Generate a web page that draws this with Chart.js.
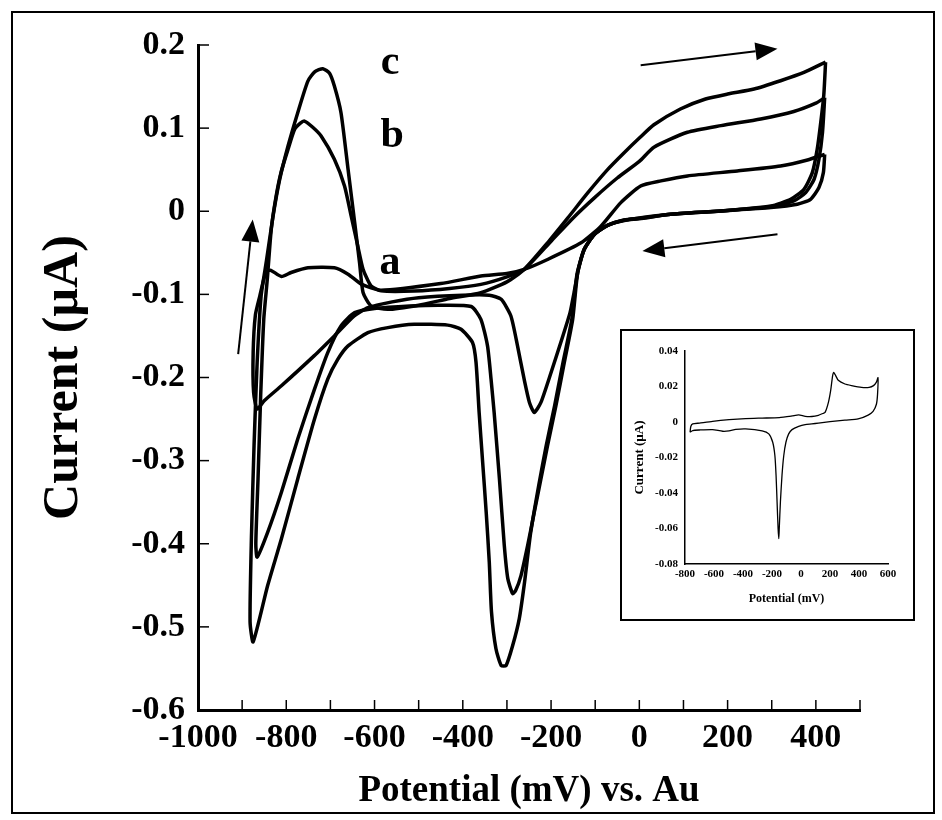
<!DOCTYPE html>
<html>
<head>
<meta charset="utf-8">
<title>Cyclic voltammograms</title>
<script src="https://cdn.jsdelivr.net/npm/chart.js@4/dist/chart.umd.min.js"></script>
<style>
  html, body { margin: 0; padding: 0; background: #fff; }
  #wrap { position: relative; width: 942px; height: 820px; }
  #frame { position: absolute; left: 11px; top: 11px; width: 924px; height: 803px; border: 2px solid #000; box-sizing: border-box; }
  #main { position: absolute; left: 0; top: 0; }
  #insetBox { position: absolute; left: 620px; top: 329px; width: 295px; height: 292px; border: 2px solid #000; box-sizing: border-box; background: #fff; }
  #inset { position: absolute; left: 0; top: 0; }
</style>
</head>
<body>
<div id="wrap">
  <div id="frame"></div>
  <canvas id="main" width="942" height="820"></canvas>
  <div id="insetBox"><canvas id="inset" width="291" height="288"></canvas></div>
</div>
<script>
// ---- data: potential (mV) and current (uA), in scan order ----
const potA = [420, 417, 407, 388, 358, 298, 185, 71, 0, -42, -72, -102, -125, -138, -148, -157, -178, -200, -223, -238, -249, -261, -276, -291, -313, -340, -400, -500, -560, -615, -646, -691, -737, -811, -850, -866, -874, -875, -870, -860, -850, -843, -835, -811, -789, -751, -691, -660, -630, -585, -450, -359, -300, -261, -208, -132, -87, -42, 3, 49, 109, 222, 320, 381, 420];
const curA = [0.0685, 0.0465, 0.0285, 0.0144, 0.0084, 0.0044, 0.0004, -0.0036, -0.008, -0.012, -0.017, -0.028, -0.046, -0.07, -0.098, -0.122, -0.158, -0.194, -0.23, -0.242, -0.23, -0.202, -0.162, -0.126, -0.106, -0.101, -0.101, -0.104, -0.109, -0.116, -0.126, -0.15, -0.174, -0.21, -0.228, -0.238, -0.218, -0.17, -0.125, -0.102, -0.08, -0.072, -0.071, -0.0785, -0.0737, -0.068, -0.068, -0.0757, -0.0877, -0.095, -0.087, -0.078, -0.075, -0.07, -0.058, -0.038, -0.018, 0.0104, 0.0304, 0.0365, 0.0425, 0.0485, 0.0545, 0.0617, 0.0685];

const potB = [420, 415, 407, 396, 377, 350, 298, 185, 71, 0, -34, -72, -102, -125, -140, -151, -170, -189, -208, -223, -238, -253, -268, -280, -287, -298, -306, -317, -329, -336, -344, -359, -381, -450, -520, -600, -645, -676, -706, -736, -774, -811, -842, -866, -869, -864, -858, -851, -843, -834, -823, -812, -796, -781, -768, -759, -740, -721, -691, -668, -653, -638, -626, -608, -585, -510, -430, -359, -300, -261, -200, -150, -100, -50, 0, 33, 109, 185, 275, 350, 400, 420];
const curB = [0.1366, 0.0946, 0.0625, 0.0385, 0.0225, 0.0124, 0.0054, 0.0004, -0.0036, -0.0085, -0.0105, -0.017, -0.028, -0.046, -0.075, -0.13, -0.182, -0.234, -0.282, -0.322, -0.362, -0.402, -0.438, -0.456, -0.46, -0.442, -0.402, -0.322, -0.242, -0.202, -0.162, -0.13, -0.1146, -0.113, -0.114, -0.117, -0.122, -0.138, -0.17, -0.214, -0.274, -0.338, -0.386, -0.416, -0.4, -0.322, -0.222, -0.13, -0.082, -0.0216, 0.018, 0.0465, 0.0745, 0.0986, 0.106, 0.1085, 0.101, 0.0905, 0.0625, 0.0304, -0.0056, -0.0417, -0.0697, -0.0898, -0.0958, -0.096, -0.093, -0.088, -0.079, -0.07, -0.036, -0.008, 0.017, 0.04, 0.06, 0.077, 0.095, 0.103, 0.111, 0.12, 0.13, 0.1366];

const potC = [422, 418, 411, 403, 392, 373, 343, 298, 185, 71, 0, -34, -72, -102, -125, -141, -153, -173, -192, -211, -228, -246, -261, -272, -287, -302, -313, -325, -335, -340, -347, -355, -363, -370, -378, -404, -434, -510, -570, -615, -660, -683, -706, -736, -774, -811, -842, -875, -882, -879, -873, -866, -857, -845, -830, -815, -796, -774, -751, -735, -717, -702, -691, -676, -660, -645, -634, -626, -608, -570, -500, -430, -359, -300, -261, -208, -162, -117, -72, -35, 0, 33, 93, 150, 200, 260, 320, 373, 422];
const curC = [0.1795, 0.14, 0.1066, 0.0745, 0.0465, 0.0264, 0.0144, 0.0064, 0.0004, -0.0036, -0.009, -0.0105, -0.017, -0.028, -0.046, -0.075, -0.13, -0.182, -0.234, -0.282, -0.33, -0.386, -0.45, -0.49, -0.5225, -0.5465, -0.5465, -0.526, -0.482, -0.422, -0.362, -0.302, -0.242, -0.182, -0.158, -0.142, -0.137, -0.136, -0.14, -0.146, -0.162, -0.178, -0.202, -0.25, -0.322, -0.394, -0.45, -0.518, -0.494, -0.394, -0.282, -0.182, -0.102, -0.06, -0.006, 0.038, 0.0785, 0.1186, 0.1566, 0.168, 0.1715, 0.166, 0.1506, 0.1186, 0.0505, -0.0136, -0.0617, -0.0978, -0.1138, -0.118, -0.113, -0.105, -0.098, -0.085, -0.07, -0.038, -0.008, 0.022, 0.05, 0.07, 0.088, 0.104, 0.123, 0.135, 0.141, 0.147, 0.157, 0.167, 0.1795];

// inset voltammogram
const insetPot = [-765, -760, -747, -700, -610, -496, -382, -268, -150, -62, -16, 29, 75, 120, 150, 166, 189, 205, 218, 226, 240, 257, 303, 349, 417, 470, 500, 520, 531, 528, 520, 497, 463, 394, 303, 200, 120, 75, 29, -16, -62, -85, -104, -119, -131, -142, -150, -153, -158, -165, -172, -180, -195, -222, -268, -382, -450, -496, -540, -610, -700, -747, -765];
const insetCur = [-0.0058, -0.0025, -0.0011, -0.0006, 0.0004, 0.0013, 0.0019, 0.0022, 0.0025, 0.0034, 0.004, 0.0032, 0.0031, 0.0038, 0.0048, 0.0054, 0.0111, 0.018, 0.026, 0.0279, 0.026, 0.0235, 0.0214, 0.0205, 0.0195, 0.0195, 0.0205, 0.0225, 0.025, 0.0157, 0.01, 0.006, 0.0039, 0.0017, 0.0011, 0.0002, -0.0006, -0.0011, -0.0015, -0.0025, -0.0043, -0.0067, -0.0114, -0.019, -0.03, -0.045, -0.06, -0.0657, -0.06, -0.045, -0.03, -0.019, -0.0114, -0.0067, -0.005, -0.0039, -0.0042, -0.005, -0.0052, -0.0043, -0.0045, -0.0048, -0.0058];

// curve letters and scan-direction arrows (data units)
const curveNames = ["a", "b", "c"];
const namePot = [-565, -560, -565];
const nameCur = [-0.0757, 0.0769, 0.1647];
const arrowFromPot = [-909, 3, 313];
const arrowFromCur = [-0.172, 0.1755, -0.0276];
const arrowToPot = [-876, 313, 7];
const arrowToCur = [-0.010, 0.1956, -0.0477];

const SERIF = '"Liberation Serif", "Times New Roman", serif';
Chart.defaults.font.family = SERIF;
Chart.defaults.color = "#000";

function toPoints(xs, ys) {
    const n = Math.min(xs.length, ys.length);
    const pts = [];
    for (let i = 0; i < n; i++) pts.push({ x: xs[i], y: ys[i] });
    return pts;
}

function curve(xs, ys, width) {
    return {
        data: toPoints(xs, ys),
        showLine: true,
        borderColor: "#000",
        borderWidth: width,
        pointRadius: 0,
        tension: 0.2,
        fill: false
    };
}

// -------------------------
// ticks pointing into the plot
// -------------------------
const inwardTicks = {
    id: "inwardTicks",
    afterDatasetsDraw(chart) {
        const { ctx, chartArea, scales } = chart;
        ctx.save();
        ctx.strokeStyle = "#000";
        ctx.lineWidth = 1.5;
        scales.x.ticks.forEach(t => {
            const px = scales.x.getPixelForValue(t.value);
            ctx.beginPath();
            ctx.moveTo(px, chartArea.bottom);
            ctx.lineTo(px, chartArea.bottom - 10);
            ctx.stroke();
        });
        scales.y.ticks.forEach(t => {
            const py = scales.y.getPixelForValue(t.value);
            ctx.beginPath();
            ctx.moveTo(chartArea.left, py);
            ctx.lineTo(chartArea.left + 11, py);
            ctx.stroke();
        });
        ctx.restore();
    }
};

// -------------------------
// letters a/b/c and arrows
// -------------------------
const annotations = {
    id: "annotations",
    afterDatasetsDraw(chart) {
        const { ctx, scales: { x, y } } = chart;
        ctx.save();
        ctx.fillStyle = "#000";
        ctx.strokeStyle = "#000";
        ctx.font = "bold 42px " + SERIF;
        ctx.textAlign = "center";
        ctx.textBaseline = "alphabetic";
        curveNames.forEach((n, i) => {
            ctx.fillText(n, x.getPixelForValue(namePot[i]), y.getPixelForValue(nameCur[i]));
        });

        for (let i = 0; i < arrowFromPot.length; i++) {
            const x0 = x.getPixelForValue(arrowFromPot[i]);
            const y0 = y.getPixelForValue(arrowFromCur[i]);
            const x1 = x.getPixelForValue(arrowToPot[i]);
            const y1 = y.getPixelForValue(arrowToCur[i]);
            const ang = Math.atan2(y1 - y0, x1 - x0);
            const headLen = 22, headHalf = 9;
            const bx = x1 - headLen * Math.cos(ang);
            const by = y1 - headLen * Math.sin(ang);
            ctx.lineWidth = 2;
            ctx.beginPath();
            ctx.moveTo(x0, y0);
            ctx.lineTo(bx, by);
            ctx.stroke();
            ctx.beginPath();
            ctx.moveTo(x1, y1);
            ctx.lineTo(bx + headHalf * Math.sin(ang), by - headHalf * Math.cos(ang));
            ctx.lineTo(bx - headHalf * Math.sin(ang), by + headHalf * Math.cos(ang));
            ctx.closePath();
            ctx.fill();
        }
        ctx.restore();
    }
};

// -------------------------
// MAIN CHART
// -------------------------
new Chart(document.getElementById("main"), {
    type: "scatter",
    data: {
        datasets: [
            curve(potA, curA, 3.5),
            curve(potB, curB, 3.5),
            curve(potC, curC, 3.5)
        ]
    },
    options: {
        responsive: false,
        animation: false,
        devicePixelRatio: 1,
        layout: { padding: { left: 12, top: 45, right: 82, bottom: 0 } },
        plugins: { legend: { display: false }, tooltip: { enabled: false } },
        scales: {
            x: {
                type: "linear",
                min: -1000,
                max: 500,
                afterFit(scale) { scale.height = 110; },
                border: { display: true, color: "#000", width: 3 },
                grid: { display: false, drawTicks: false },
                ticks: {
                    stepSize: 100,
                    autoSkip: false,
                    maxRotation: 0,
                    padding: 11,
                    font: { size: 34, weight: "bold", lineHeight: 1 },
                    callback: v => (v % 200 === 0 && v <= 400) ? String(v) : ""
                },
                title: {
                    display: true,
                    text: "Potential (mV) vs. Au",
                    font: { size: 37, weight: "bold", lineHeight: 1 },
                    padding: { top: 0, bottom: 10 }
                }
            },
            y: {
                type: "linear",
                min: -0.6,
                max: 0.2,
                afterFit(scale) { scale.width = 186; },
                border: { display: true, color: "#000", width: 3 },
                grid: { display: false, drawTicks: false },
                ticks: {
                    stepSize: 0.1,
                    autoSkip: false,
                    padding: 13,
                    font: { size: 34, weight: "bold", lineHeight: 1 },
                    callback: v => String(Math.round(v * 10) / 10)
                },
                title: {
                    display: true,
                    text: "Current (µA)",
                    font: { size: 50, weight: "bold", lineHeight: 1 },
                    padding: { top: 27, bottom: 0 }
                }
            }
        }
    },
    plugins: [inwardTicks, annotations]
});

// -------------------------
// INSET CHART
// -------------------------
new Chart(document.getElementById("inset"), {
    type: "scatter",
    data: { datasets: [curve(insetPot, insetCur, 1.3)] },
    options: {
        responsive: false,
        animation: false,
        devicePixelRatio: 1,
        layout: { padding: { left: 2, top: 20, right: 25, bottom: 0 } },
        plugins: { legend: { display: false }, tooltip: { enabled: false } },
        scales: {
            x: {
                type: "linear",
                min: -800,
                max: 600,
                afterFit(scale) { scale.height = 55; },
                border: { display: true, color: "#000", width: 1.5 },
                grid: { display: false, drawTicks: false },
                ticks: {
                    stepSize: 200,
                    autoSkip: false,
                    maxRotation: 0,
                    padding: 5,
                    font: { size: 11, weight: "bold", lineHeight: 1 }
                },
                title: {
                    display: true,
                    text: "Potential (mV)",
                    font: { size: 12, weight: "bold", lineHeight: 1 },
                    padding: { top: 0, bottom: 14 }
                }
            },
            y: {
                type: "linear",
                min: -0.08,
                max: 0.04,
                afterFit(scale) { scale.width = 61; },
                border: { display: true, color: "#000", width: 1.5 },
                grid: { display: false, drawTicks: false },
                ticks: {
                    stepSize: 0.02,
                    autoSkip: false,
                    padding: 7,
                    font: { size: 11, weight: "bold", lineHeight: 1 },
                    callback: v => Math.abs(v) < 1e-9 ? "0" : v.toFixed(2)
                },
                title: {
                    display: true,
                    text: "Current (µA)",
                    font: { size: 13, weight: "bold", lineHeight: 1 },
                    padding: { top: 9, bottom: 0 }
                }
            }
        }
    }
});
</script>
</body>
</html>
